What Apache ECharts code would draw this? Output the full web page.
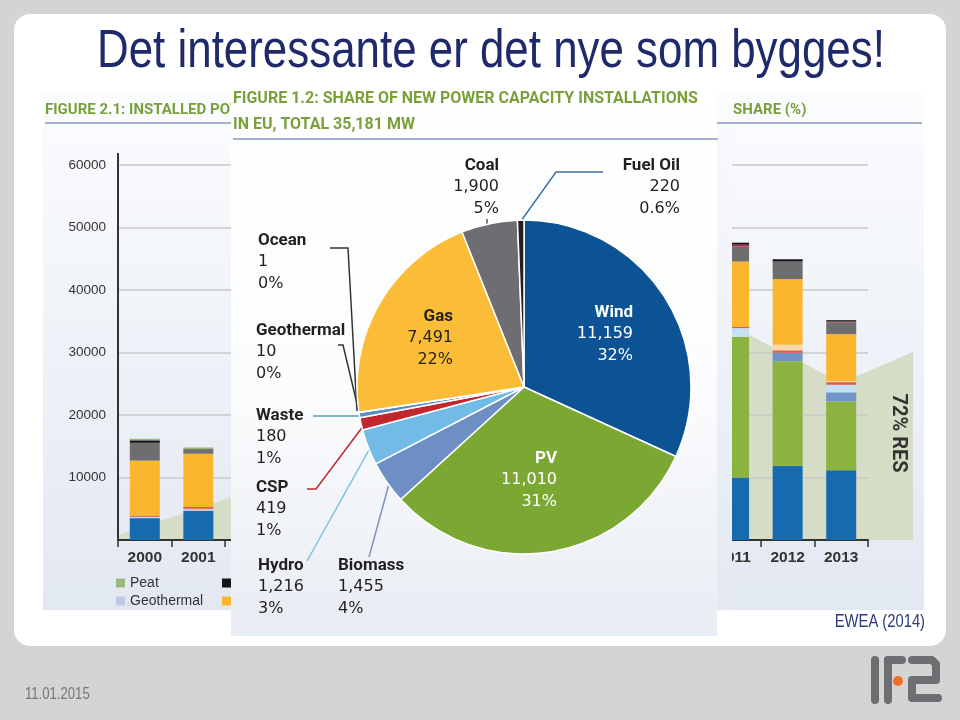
<!DOCTYPE html>
<html><head><meta charset="utf-8">
<script src="https://cdn.jsdelivr.net/npm/echarts@6/dist/echarts.min.js"></script>
<style>html,body{margin:0;padding:0;background:#d4d4d4}#c{width:960px;height:720px}</style>
</head><body><div id="c"></div><script>
// ---------- Figure 2.1 (background bar chart) ----------
const N = null; // hidden behind the pie panel, not readable
const years = ['2000','2001','2002','2003','2004','2005','2006','2007','2008','2009','2010','2011','2012','2013'];
const wind       = [3500, 4650, N,N,N,N,N,N,N,N,N, 10000, 11900, 11159];
const pv         = [0,    0,    N,N,N,N,N,N,N,N,N, 22500, 16700, 11010];
const geothermal = [0,    350,  N,N,N,N,N,N,N,N,N, 0,     0,     0];
const biomass    = [0,    0,    N,N,N,N,N,N,N,N,N, 0,     1350,  1455];
const hydro      = [200,  0,    N,N,N,N,N,N,N,N,N, 1400,  0,     1216];
const csp        = [200,  300,  N,N,N,N,N,N,N,N,N, 200,   400,   419];
const waste      = [0,    0,    N,N,N,N,N,N,N,N,N, 0,     900,   180];
const gas        = [8800, 8500, N,N,N,N,N,N,N,N,N, 10450, 10500, 7491];
const coal       = [2850, 750,  N,N,N,N,N,N,N,N,N, 2400,  2800,  1900];
const nuclear    = [0,    0,    N,N,N,N,N,N,N,N,N, 300,   0,     120];
const fuelOil    = [400,  0,    N,N,N,N,N,N,N,N,N, 320,   370,   220];
const peat       = [250,  250,  N,N,N,N,N,N,N,N,N, 0,     0,     0];
const yTicks = [0, 60000, 10000];
// RES share area (position in year slots, share %)
const resPos   = [0, 0.5, 1.5, 11.5, 12.5, 13.5, 14.84];
const resShare = [1.9, 5.4, 12.2, 81.6, 70.9, 60.1, 72];

// ---------- Figure 1.2 (pie) ----------
const pieNames  = ['Wind','PV','Biomass','Hydro','CSP','Waste','Geothermal','Ocean','Gas','Coal','Fuel Oil'];
const pieValues = [11159, 11010, 1455, 1216, 419, 180, 10, 1, 7491, 1900, 220];
const pieShares = ['32%','31%','4%','3%','1%','1%','0%','0%','22%','5%','0.6%'];

// ---------- styles ----------
const barColors = {Wind:'#176aad', PV:'#8cb23f', Geothermal:'#bccbe2', Biomass:'#6f94c8', Hydro:'#c6dff3',
  CSP:'#e05a4e', Waste:'#fad9a6', Gas:'#fcb52f', Coal:'#6e6e6e', Nuclear:'#b3283c', 'Fuel oil':'#151515', Peat:'#9cb97c'};
const barSeriesData = [['Wind',wind],['PV',pv],['Geothermal',geothermal],['Biomass',biomass],['Hydro',hydro],['CSP',csp],
  ['Waste',waste],['Gas',gas],['Coal',coal],['Nuclear',nuclear],['Fuel oil',fuelOil],['Peat',peat]];
const pieColors = {Wind:'#0b5394', PV:'#7aa833', Biomass:'#6e8fc4', Hydro:'#72bbe6', CSP:'#c1272d', Waste:'#5a8dc5',
  Geothermal:'#9aa0a6', Ocean:'#2e3a4a', Gas:'#fbbd38', Coal:'#6d6e71', 'Fuel Oil':'#231f20'};
const spots = {
  Wind:{x:633,y:302,align:'right',color:'#fff'},
  PV:{x:557,y:448,align:'right',color:'#fff'},
  Gas:{x:453,y:306,align:'right'},
  Coal:{x:499,y:155,align:'right',line:[[487,225],[487,219],[487,219]],lc:'#555'},
  'Fuel Oil':{x:680,y:155,align:'right',line:[[521,221],[556,172],[603,172]],lc:'#3f72a8'},
  Ocean:{x:258,y:230,align:'left',line:[[357,411],[348,248],[330,248]],lc:'#333'},
  Geothermal:{x:256,y:320,align:'left',line:[[359,412],[343,345],[338,345]],lc:'#333'},
  Waste:{x:256,y:405,align:'left',line:[[360,416],[313,416],[313,416]],lc:'#5d9ac0'},
  CSP:{x:256,y:477,align:'left',line:[[364,425],[316,489],[307,489]],lc:'#c1272d'},
  Hydro:{x:258,y:555,align:'left',line:[[369,450],[307,561],[307,561]],lc:'#7cc0e6'},
  Biomass:{x:338,y:555,align:'left',line:[[389,484],[369,557],[369,557]],lc:'#8193b8'}
};
const green = '#7aa03c';
const figFont = 'Roboto';

const chart = echarts.init(document.getElementById('c'), null, {renderer:'canvas'});
const fmt = v => v.toLocaleString('en-US');
const grad = (stops) => ({type:'linear', x:0, y:0, x2:0, y2:1, colorStops:stops});

const option = {
  animation:false,
  backgroundColor:'#d4d4d4',
  grid:[
    {left:118, top:165, width:750, height:375, containLabel:false, outerBoundsMode:'none'},
    {left:118, top:165, width:795, height:375, containLabel:false, outerBoundsMode:'none'}
  ],
  legend:[
    {left:116, top:576, orient:'vertical', padding:0, itemWidth:9, itemHeight:9, itemGap:4, icon:'rect', z:4,
     textStyle:{fontSize:14, color:'#333', fontFamily:'Liberation Sans'}, data:['Peat','Geothermal'], selectedMode:false},
    {left:222, top:576, orient:'vertical', padding:0, itemWidth:9, itemHeight:9, itemGap:4, icon:'rect', z:4,
     textStyle:{fontSize:14, color:'#333', fontFamily:'Liberation Sans'}, data:['Fuel oil','Gas'], selectedMode:false}
  ],
  xAxis:[
    {type:'category', gridIndex:0, data:years, z:1.5, boundaryGap:true,
     axisLine:{lineStyle:{color:'#333', width:2}},
     axisTick:{show:true, interval:0, length:7, alignWithLabel:false, lineStyle:{color:'#333', width:1.5}},
     axisLabel:{interval:0, margin:10, fontSize:15.5, fontWeight:'bold', color:'#333', fontFamily:'Liberation Sans'}},
    {type:'value', gridIndex:1, min:0, max:14.84, show:false}
  ],
  yAxis:[
    {type:'value', gridIndex:0, min:yTicks[0], max:yTicks[1], interval:yTicks[2], z:1.5,
     axisLine:{show:true, lineStyle:{color:'#333', width:2}}, axisTick:{show:false},
     splitLine:{lineStyle:{color:'#c9c9c9', width:1.5}},
     axisLabel:{showMinLabel:false, margin:12, fontSize:13.5, color:'#333', fontFamily:'Liberation Sans',
       formatter: v => String(v)}},
    {type:'value', gridIndex:1, min:0, max:143.6, show:false}
  ],
  series:[
    {type:'line', name:'RES share', xAxisIndex:1, yAxisIndex:1, z:1, silent:true, symbol:'none', connectNulls:true,
     lineStyle:{width:0}, areaStyle:{color:'#d5ddc6', opacity:1},
     data: resPos.map((x,i)=>[x, resShare[i]])},
    ...barSeriesData.map(([name, arr]) => ({
      type:'bar', name, stack:'total', xAxisIndex:0, yAxisIndex:0, barWidth:30, z:2, silent:true,
      itemStyle:{color:barColors[name]}, data:arr
    })),
    {type:'pie', name:'share', z:30, center:[524,387], radius:167, startAngle:90, clockwise:true,
     avoidLabelOverlap:false, silent:true, minAngle:0,
     itemStyle:{borderColor:'#ffffff', borderWidth:1.5},
     label:{show:true, position:'outside',
       formatter: p => `{n|${p.name}}\n{v|${fmt(p.value)}}\n{v|${pieShares[p.dataIndex]}}`,
       rich:{
         n:{fontFamily:figFont, fontWeight:'bold', fontSize:17, lineHeight:21.5},
         v:{fontFamily:'DejaVu Sans', fontSize:16, lineHeight:21.5}
       }},
     labelLine:{show:true, length:5, length2:5, smooth:false, lineStyle:{width:1.5}},
     labelLayout: params => {
       const s = spots[pieNames[params.dataIndex]];
       const out = {x:s.x, y:s.y, align:s.align, verticalAlign:'top', hideOverlap:false};
       if (s.line) out.labelLinePoints = s.line;
       return out;
     },
     data: pieNames.map((n,i)=>{
       const s = spots[n];
       return {name:n, value:pieValues[i], itemStyle:{color:pieColors[n]},
         label:{color:s.color || '#231f20', align:s.align},
         labelLine:{show:!!s.line, lineStyle:{color:s.lc || '#333', width:1.5}}};
     })}
  ],
  graphic:{elements:[
    // slide panel
    {type:'rect', z:-10, silent:true, shape:{x:14, y:14, width:932, height:632, r:16}, style:{fill:'#ffffff'}},
    // figure 2.1 background
    {type:'rect', z:-9, silent:true, shape:{x:43, y:92, width:881, height:518},
     style:{fill:grad([{offset:0,color:'#fbfcfe'},{offset:1,color:'#e2e8f2'}])}},
    {type:'line', z:-8, silent:true, shape:{x1:118, y1:153, x2:118, y2:165}, style:{stroke:'#333', lineWidth:2}},
    {type:'text', z:-8, silent:true, x:45, y:110, style:{text:'FIGURE 2.1: INSTALLED POWER CAPACITY', fill:green,
      fontFamily:figFont, fontWeight:'bold', fontSize:15, verticalAlign:'middle'}},
    {type:'text', z:-8, silent:true, x:733, y:110, style:{text:'SHARE (%)', fill:green,
      fontFamily:figFont, fontWeight:'bold', fontSize:15, verticalAlign:'middle'}},
    {type:'line', z:-8, silent:true, shape:{x1:45, y1:123, x2:922, y2:123}, style:{stroke:'#a3b1cb', lineWidth:2}},
    {type:'text', z:3, silent:true, x:898, y:433, rotation:-Math.PI/2, style:{text:'72% RES', fill:'#333',
      fontFamily:figFont, fontWeight:'bold', fontSize:20, align:'center', verticalAlign:'middle'}},
    // pie panel
    {type:'rect', z:20, silent:true, shape:{x:231, y:86, width:486, height:550},
     style:{fill:grad([{offset:0,color:'#ffffff'},{offset:0.55,color:'#fbfcfd'},{offset:1,color:'#e8ecf3'}])}},
    {type:'rect', z:20, silent:true, shape:{x:717, y:128, width:15, height:482},
     style:{fill:grad([{offset:0,color:'#f8f9fc'},{offset:1,color:'#e3e8f2'}])}},
    {type:'text', z:21, silent:true, x:233, y:99, style:{text:'FIGURE 1.2: SHARE OF NEW POWER CAPACITY INSTALLATIONS', fill:green,
      fontFamily:figFont, fontWeight:'bold', fontSize:16, verticalAlign:'middle'}},
    {type:'text', z:21, silent:true, x:233, y:125, style:{text:'IN EU, TOTAL 35,181 MW', fill:green,
      fontFamily:figFont, fontWeight:'bold', fontSize:16, verticalAlign:'middle'}},
    {type:'line', z:21, silent:true, shape:{x1:233, y1:139, x2:718, y2:139}, style:{stroke:'#a3b1cb', lineWidth:2}},
    // slide title and footer
    {type:'text', z:40, silent:true, x:97, y:52, scaleX:0.828, style:{text:'Det interessante er det nye som bygges!', fill:'#1f2a6a',
      fontFamily:'Liberation Sans', fontSize:53, verticalAlign:'middle'}},
    {type:'text', z:40, silent:true, x:925, y:622, scaleX:0.82, style:{text:'EWEA (2014)', fill:'#2b3a78',
      fontFamily:'Liberation Sans', fontSize:18, align:'right', verticalAlign:'middle'}},
    {type:'text', z:40, silent:true, x:25, y:695, scaleX:0.82, style:{text:'11.01.2015', fill:'#777',
      fontFamily:'Liberation Sans', fontSize:16, verticalAlign:'middle'}},
    // IFE logo
    {type:'rect', z:40, silent:true, shape:{x:871, y:656, width:8, height:48, r:4}, style:{fill:'#6d6e71'}},
    {type:'rect', z:40, silent:true, shape:{x:884, y:656, width:8, height:48, r:4}, style:{fill:'#6d6e71'}},
    {type:'rect', z:40, silent:true, shape:{x:884, y:656, width:22, height:8, r:4}, style:{fill:'#6d6e71'}},
    {type:'circle', z:40, silent:true, shape:{cx:898, cy:681, r:5}, style:{fill:'#f26f21'}},
    {type:'polyline', z:40, silent:true, shape:{points:[[912,660],[932,660],[936,664],[936,680],[912,680],[912,698],[938,698]]},
     style:{stroke:'#6d6e71', lineWidth:8, lineCap:'round', lineJoin:'round', fill:null}}
  ]}
};
chart.setOption(option);
</script></body></html>
